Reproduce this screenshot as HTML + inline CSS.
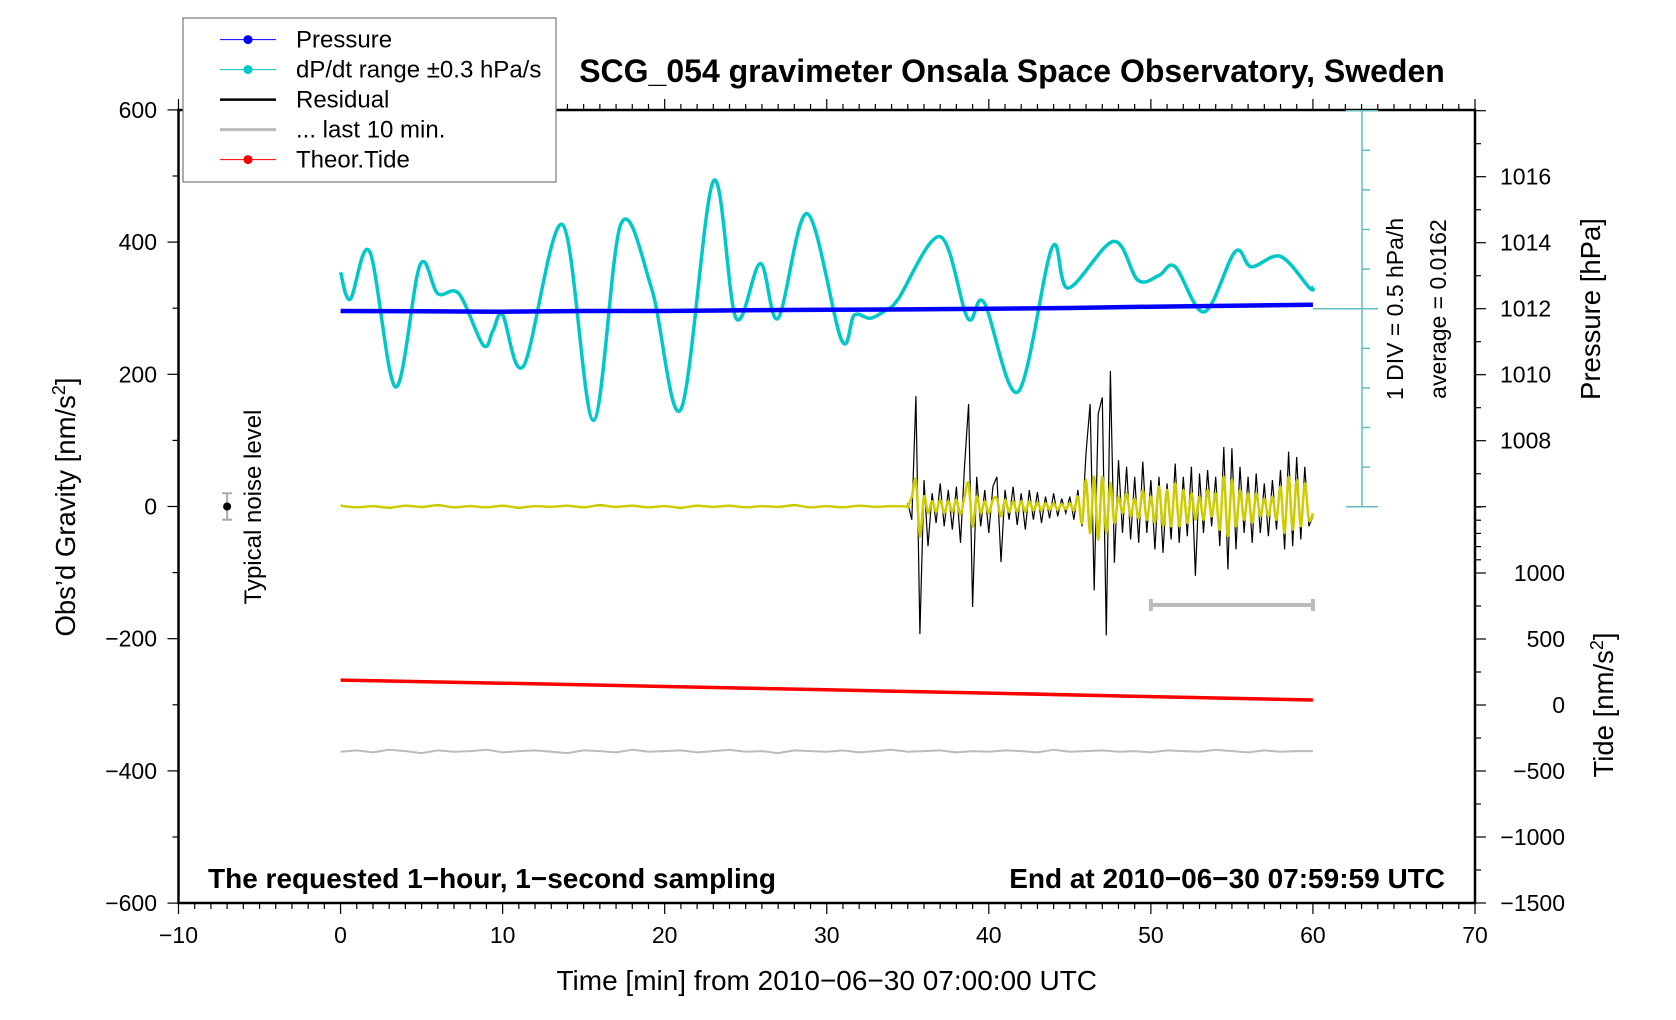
<!DOCTYPE html>
<html><head><meta charset="utf-8"><style>
html,body{margin:0;padding:0;background:#fff;}
svg{display:block;font-family:"Liberation Sans",Arial,sans-serif;}
</style></head><body>
<svg id="chart" width="1676" height="1020" viewBox="0 0 1676 1020" xmlns="http://www.w3.org/2000/svg"></svg>
<script>
// ---------- data ----------
const cyanTimes = [0,0.6,1.8,3.4,4.9,6,7.3,8.8,9.4,10,11.3,13.7,15.6,17.3,19.2,21,23,24.4,25.9,27,28.8,30.9,31.7,32.7,33.7,34.4,37,38.7,39.7,41.8,43.9,44.9,47.7,49.2,50.5,51.5,53.3,55.2,56.2,58,59.8,60];
const cyanValues = [0.46,0.12,0.72,-0.99,0.55,0.19,0.19,-0.46,-0.28,-0.08,-0.72,1.06,-1.41,1.07,0.25,-1.27,1.61,-0.12,0.57,-0.12,1.20,-0.39,-0.08,-0.12,-0.01,0.12,0.91,-0.12,0.08,-1.05,0.77,0.26,0.85,0.36,0.42,0.53,-0.04,0.72,0.53,0.66,0.26,0.28];
const pressureTimes = [0,5,10,15,20,25,30,35,40,45,50,55,60];
const pressureValues = [1011.93,1011.92,1011.91,1011.93,1011.93,1011.95,1011.97,1011.98,1012.0,1012.02,1012.06,1012.09,1012.12];
const residualEarly = [2,-2,1,-3,2,-1,3,-2,1,-2,2,-3,1,-1,2,-2,3,-1,2,-2,1,-3,2,-1,2,-2,1,-1,3,-2,1,-2,2,-1,1,0];
const residualLate = [5,-20,167,-193,40,-60,20,-25,35,-30,25,-35,30,-55,60,155,-152,45,-30,25,-40,30,45,-84,25,-20,30,-28,20,-35,25,-20,22,-25,15,-18,20,-15,12,-10,15,-20,25,-30,80,155,-127,140,165,-195,205,-85,70,-40,60,-50,45,-55,68,-40,40,-65,45,-70,35,-50,65,-55,45,-45,60,-105,50,-40,55,-30,45,-60,90,-95,88,-65,60,-40,45,-55,50,-40,35,-45,40,-35,55,-65,83,-60,75,-50,60,-30,-15];
const filteredLate = [0,15,40,-45,15,-10,8,-8,10,-10,8,-8,10,-12,15,35,-30,15,-10,8,-10,10,12,-15,10,-8,8,-8,8,-8,8,-6,6,-6,5,-5,5,-5,4,-4,5,-6,15,-25,40,-40,45,-50,45,-40,35,-25,15,-10,20,-15,12,-18,25,-20,15,-25,30,-30,25,-30,35,-30,25,-25,20,-20,15,-20,25,-15,20,-35,45,-45,40,-30,25,-20,20,-25,20,-15,12,-15,15,-20,30,-40,45,-35,40,-30,35,-20,-10];
const last10Values = [-371,-369,-372,-368,-370,-373,-369,-371,-370,-368,-372,-370,-369,-371,-373,-369,-370,-372,-368,-371,-370,-369,-372,-370,-368,-371,-370,-373,-369,-370,-371,-369,-372,-370,-368,-371,-370,-369,-372,-370,-371,-369,-370,-372,-368,-371,-370,-369,-371,-370,-372,-369,-370,-371,-368,-370,-372,-369,-371,-370,-370];
const tideTimes = [0,10,20,30,40,50,60];
const tideValues = [189,165,140,115,90,64,38];
const xTicks = [-10,0,10,20,30,40,50,60,70];
const yTicks = [600,400,200,0,-200,-400,-600];
const pTicks = [1008,1010,1012,1014,1016];
const tideTicks = [1000,500,0,-500,-1000,-1500];

// ---------- axes ----------
const L=178.5,R=1475,T=110,B=903;
const X=t=>L+(t+10)*(R-L)/80;
const Y=v=>506.5-v*0.661;
const YP=p=>308.7-(p-1012)*33;
const YT=v=>705-v*0.132;
const YD=v=>308.7-v*79.2;

const svg=document.getElementById('chart');
const NS='http://www.w3.org/2000/svg';
function mk(tag,attrs,parent){const e=document.createElementNS(NS,tag);for(const k in attrs)e.setAttribute(k,attrs[k]);(parent||svg).appendChild(e);return e;}
function txt(s,attrs,parent){const e=mk('text',attrs,parent);e.textContent=s;return e;}

const frame=mk('rect',{x:L,y:T,width:R-L,height:B-T,fill:'none',stroke:'#000','stroke-width':2.5});



const xg=mk('g',{});


for(let t=-10;t<=70;t++){
  const major=t%10===0;
  mk('line',{x1:X(t),x2:X(t),y1:B,y2:B+(major?11:6),stroke:'#000','stroke-width':1.2},xg);
  mk('line',{x1:X(t),x2:X(t),y1:T,y2:T-(major?11:6),stroke:'#000','stroke-width':1.2},xg);
}
xTicks.forEach(t=>{const e=txt(String(t).replace('-','\u2212'),{x:X(t),y:943,'font-size':23,'text-anchor':'middle'},xg);});
const xt=txt('Time [min] from 2010\u221206\u221230 07:00:00 UTC',{x:X(30),y:990,'font-size':28,'text-anchor':'middle'});



const yg=mk('g',{});


for(let v=-600;v<=600;v+=100){mk('line',{x1:L,x2:L-(v%200===0?11:6),y1:Y(v),y2:Y(v),stroke:'#000','stroke-width':1.2},yg);}
yTicks.forEach(v=>{const e=txt(String(v).replace('-','\u2212'),{x:157,y:Y(v)+8,'font-size':23,'text-anchor':'end'},yg);});
const yt=txt('',{transform:`translate(75,507) rotate(-90)`,'font-size':27.5,'text-anchor':'middle'});
yt.innerHTML="Obs\u2019d Gravity [nm/s<tspan dy='-10' font-size='18'>2</tspan><tspan dy='10'>]</tspan>";



const pg=mk('g',{});


for(let p=1006;p<=1018;p++){mk('line',{x1:R,x2:R+(p%2===0?11:6),y1:YP(p),y2:YP(p),stroke:'#000','stroke-width':1.2},pg);}
pTicks.forEach(p=>{const e=txt(String(p),{x:1500,y:YP(p)+8,'font-size':23},pg);});
const pt=txt('Pressure [hPa]',{transform:'translate(1600,309) rotate(-90)','font-size':27.5,'text-anchor':'middle'});


const tg=mk('g',{});


for(let v=-1500;v<1000;v+=250){mk('line',{x1:R,x2:R+(v%500===0?11:6),y1:YT(v),y2:YT(v),stroke:'#000','stroke-width':1.2},tg);}
for(let v=1000;v<=1500;v+=100){mk('line',{x1:R,x2:R+(v===1000?11:6),y1:YT(v),y2:YT(v),stroke:'#000','stroke-width':1.2},tg);}
tideTicks.forEach(v=>{const e=txt(String(v).replace('-','\u2212'),{x:1565,y:YT(v)+8,'font-size':23,'text-anchor':'end'},tg);});
const tt=txt('',{transform:'translate(1613,705) rotate(-90)','font-size':27.5,'text-anchor':'middle'});
tt.innerHTML="Tide [nm/s<tspan dy='-10' font-size='18'>2</tspan><tspan dy='10'>]</tspan>";



const dg=mk('g',{stroke:'#5fbfbf','stroke-width':1.5});


mk('line',{x1:1362,x2:1362,y1:YD(2.5),y2:YD(-2.5)},dg);
for(let i=-5;i<=5;i++){const v=i*0.5;const w=(i===-5||i===5)?16:(i===0?0:8);if(w)mk('line',{x1:i===5||i===-5?1346:1362,x2:1362+(i===5||i===-5?16:8),y1:YD(v),y2:YD(v)},dg);}
mk('line',{x1:X(60),x2:1378,y1:YD(0),y2:YD(0)},dg);
const d1=txt('1 DIV = 0.5 hPa/h',{transform:'translate(1403,309) rotate(-90)','font-size':23,'text-anchor':'middle'});


const d2=txt('average = 0.0162',{transform:'translate(1446,309) rotate(-90)','font-size':23,'text-anchor':'middle'});



function smoothPath(pts){let d=`M${pts[0][0]},${pts[0][1]}`;for(let i=0;i<pts.length-1;i++){const p0=pts[Math.max(0,i-1)],p1=pts[i],p2=pts[i+1],p3=pts[Math.min(pts.length-1,i+2)];const c1=[p1[0]+(p2[0]-p0[0])/6,p1[1]+(p2[1]-p0[1])/6],c2=[p2[0]-(p3[0]-p1[0])/6,p2[1]-(p3[1]-p1[1])/6];d+=` C${c1[0]},${c1[1]} ${c2[0]},${c2[1]} ${p2[0]},${p2[1]}`;}return d;}
function poly(pts){return pts.map((p,i)=>(i?'L':'M')+p[0].toFixed(1)+','+p[1].toFixed(1)).join(' ');}

const tide=mk('path',{d:poly(tideTimes.map((t,i)=>[X(t),YT(tideValues[i])])),fill:'none',stroke:'#f00','stroke-width':3.5});



const gl=mk('path',{d:poly(last10Values.map((v,i)=>[X(i),Y(v)])),fill:'none',stroke:'#bbb','stroke-width':2});


const bar=mk('g',{stroke:'#bbb','stroke-width':4});


mk('line',{x1:X(50),x2:X(60),y1:Y(-149),y2:Y(-149)},bar);
mk('line',{x1:X(50),x2:X(50),y1:Y(-149)-6,y2:Y(-149)+6},bar);
mk('line',{x1:X(60),x2:X(60),y1:Y(-149)-6,y2:Y(-149)+6},bar);

const rEarly=residualEarly.map((v,i)=>[X(i),Y(v)]);
const nL=residualLate.length;
const rLate=residualLate.map((v,i)=>[X(35+25*i/(nL-1)),Y(v)]);
const res=mk('path',{d:poly(rEarly.concat(rLate)),fill:'none',stroke:'#000','stroke-width':1.2});


const nF=filteredLate.length;
const fPts=residualEarly.map((v,i)=>[X(i),Y(v*0.6)]).concat(filteredLate.map((v,i)=>[X(35+25*i/(nF-1)),Y(v)]));
const fil=mk('path',{d:smoothPath(fPts),fill:'none',stroke:'#cccc00','stroke-width':2.5});



const cy=mk('path',{d:smoothPath(cyanTimes.map((t,i)=>[X(t),YD(cyanValues[i])])),fill:'none',stroke:'#00c8c8','stroke-width':3.5});



const pr=mk('path',{d:poly(pressureTimes.map((t,i)=>[X(t),YP(pressureValues[i])])),fill:'none',stroke:'#0000ff','stroke-width':4.5});



const ng=mk('g',{});


mk('line',{x1:X(-7),x2:X(-7),y1:Y(20),y2:Y(-20),stroke:'#aaa','stroke-width':2},ng);
mk('line',{x1:X(-7)-5,x2:X(-7)+5,y1:Y(20),y2:Y(20),stroke:'#aaa','stroke-width':2},ng);
mk('line',{x1:X(-7)-5,x2:X(-7)+5,y1:Y(-20),y2:Y(-20),stroke:'#aaa','stroke-width':2},ng);
mk('circle',{cx:X(-7),cy:Y(0),r:4,fill:'#000'},ng);
const nt=txt('Typical noise level',{transform:'translate(261,507) rotate(-90)','font-size':24,'text-anchor':'middle'});



const ti=txt('SCG_054 gravimeter Onsala Space Observatory, Sweden',{x:1012,y:82,'font-size':32,'font-weight':'bold','text-anchor':'middle'});


const bl=txt('The requested 1\u2212hour, 1\u2212second sampling',{x:208,y:888,'font-size':28,'font-weight':'bold'});


const br=txt('End at 2010\u221206\u221230 07:59:59 UTC',{x:1445,y:888,'font-size':28,'font-weight':'bold','text-anchor':'end'});



const lg=mk('g',{});


mk('rect',{x:183,y:18,width:373,height:164,fill:'#fff',stroke:'#777','stroke-width':1.2},lg);
const entries=[['Pressure','#0000ff',1,true],['dP/dt range \u00b10.3 hPa/s','#00c8c8',1,true],['Residual','#000',2.5,false],['... last 10 min.','#bbb',3,false],['Theor.Tide','#f00',1,true]];
entries.forEach((e,i)=>{const y=39.6+i*30;
  const g=mk('g',{},lg);
  
  
  mk('line',{x1:220,x2:276,y1:y,y2:y,stroke:e[1],'stroke-width':e[2]},g);
  if(e[3])mk('circle',{cx:248,cy:y,r:4.5,fill:e[1]},g);
  txt(e[0],{x:296,y:y+8,'font-size':24},g);
});
</script>
</body></html>
